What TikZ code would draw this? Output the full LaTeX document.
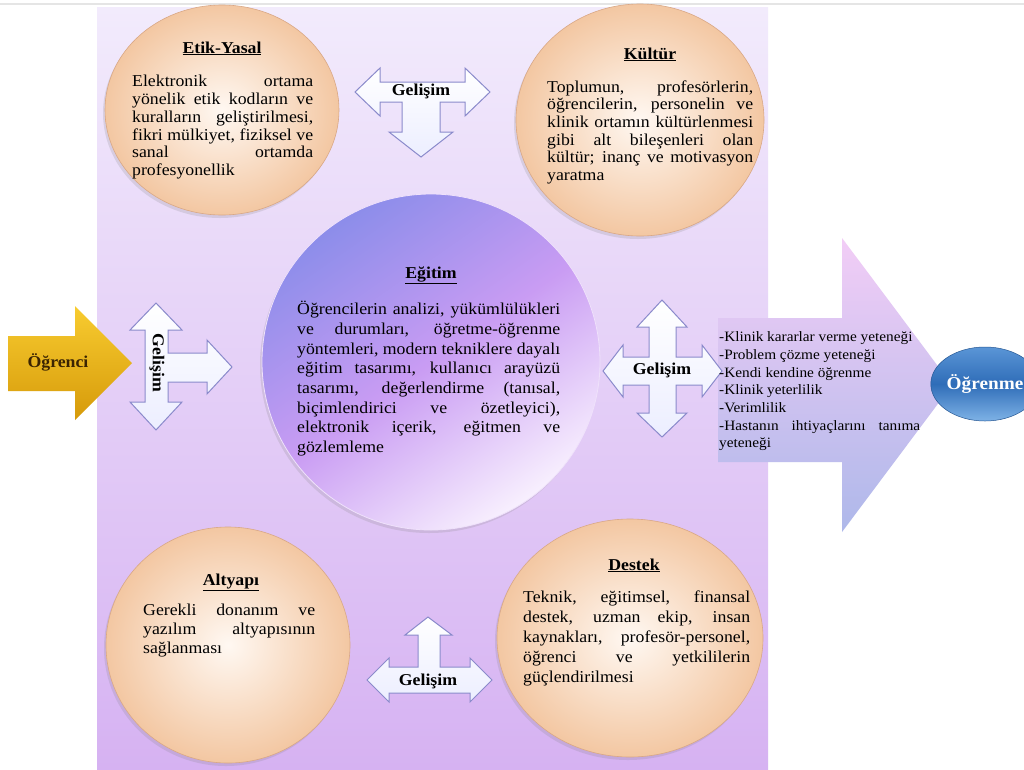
\documentclass[tikz,border=0pt]{standalone}
\usepackage{fontspec}
\setmainfont{Liberation Serif}[FakeStretch=1.07]
\usetikzlibrary{shapes.geometric,shadows}
\definecolor{panelTop}{HTML}{F2EBFC}
\definecolor{panelBot}{HTML}{D6B2F2}
\definecolor{peachIn}{HTML}{FFF8F2}
\definecolor{peachOut}{HTML}{F3C7A2}
\definecolor{peachEdge}{HTML}{D9A886}
\definecolor{eduA}{HTML}{8C8DEA}
\definecolor{eduB}{HTML}{C99CF3}
\definecolor{eduC}{HTML}{F8F0FE}
\definecolor{arrowEdge}{HTML}{8A8ACB}
\definecolor{arrowFill}{HTML}{ECEEFF}
\definecolor{bigTop}{HTML}{F2CDF6}
\definecolor{bigBot}{HTML}{AEB8EA}
\definecolor{goldTop}{HTML}{F8CC30}
\definecolor{goldBot}{HTML}{D69A0A}
\definecolor{blueTop}{HTML}{5A95D6}
\definecolor{blueMid}{HTML}{2F6DB8}
\definecolor{blueBot}{HTML}{7EB2E6}
\definecolor{inkBrown}{HTML}{3B2402}
\newcommand\jl[1]{\hbox to\hsize{\spaceskip=0pt\xspaceskip=0pt\strut#1}\par}
\newcommand\lastln[1]{\hbox{\spaceskip=0pt\xspaceskip=0pt\strut#1}\par}
\newcommand\setpar{\lineskiplimit=-20pt\parindent=0pt\parskip=0pt\relax}
\newcommand\bfs[1]{\fontsize{16.6}{#1}\selectfont\setpar}
\newcommand\rfs{\fontsize{14.3}{17.7}\selectfont\setpar}
\begin{document}
\begin{tikzpicture}[x=1pt,y=-1pt,
  peach/.style={ellipse, draw=peachEdge, line width=0.6pt, inner color=peachIn, outer color=peachOut,
    drop shadow={opacity=0.2, shadow xshift=-2pt, shadow yshift=-3pt}},
  devarrow/.style={draw=arrowEdge, line width=1pt, top color=white, bottom color=arrowFill, line join=miter},
  body/.style={anchor=north west, inner sep=0pt, text width=#1},
  ttl/.style={anchor=base, inner sep=0pt, font=\fontsize{16.6}{17.8}\selectfont\bfseries},
  gel/.style={inner sep=0pt, font=\fontsize{16.6}{17.8}\selectfont\bfseries}
]
\useasboundingbox (0,0) rectangle (1024,769);
\fill[white] (0,0) rectangle (1024,769);
\draw[black!10, line width=1.2pt] (0,4) -- (1024,4);
\shade[top color=panelTop, bottom color=panelBot] (97,7) rectangle (768,769);

% big output arrow
\shade[top color=bigTop, bottom color=bigBot] (718,318) -- (842,318) -- (842,238) -- (952,385)
  -- (842,532) -- (842,462) -- (718,462) -- cycle;
\node[ellipse, minimum width=96pt, minimum height=74pt, draw=blueMid!80!black, line width=0.5pt,
  top color=blueTop, bottom color=blueBot, middle color=blueMid, inner sep=0pt, text=white,
  font=\fontsize{18}{20}\selectfont\bfseries] (ogrenme) at (985,384) {Öğrenme};

% input arrow
\shade[top color=goldTop, bottom color=goldBot] (8,336) -- (75,336) -- (75,306) -- (132,363)
  -- (75,420) -- (75,391) -- (8,391) -- cycle;
\node[gel, text=inkBrown] (ogrenci) at (58,362) {Öğrenci};

% circles
\node[ellipse, minimum width=338pt, minimum height=336pt, draw=white!70!eduB, line width=0.8pt,
  top color=eduA, bottom color=eduC, middle color=eduB, shading angle=35,
  drop shadow={opacity=0.2, shadow xshift=-2pt, shadow yshift=-3pt}] (egitim) at (431,362) {};
\node[peach, minimum width=234pt, minimum height=210pt] (etik) at (222,110) {};
\node[peach, minimum width=248pt, minimum height=232pt] (kultur) at (640,120) {};
\node[peach, minimum width=244pt, minimum height=236pt] (altyapi) at (228,645) {};
\node[peach, minimum width=266pt, minimum height=238pt] (destek) at (630,638) {};

% development arrows
\path[devarrow] (355,92) -- (380,68) -- (380,82) -- (465,82) -- (465,68) -- (490,92) -- (465,116)
  -- (465,102) -- (440,102) -- (440,132) -- (453,132) -- (421,157) -- (389,132) -- (402,132)
  -- (402,102) -- (380,102) -- (380,116) -- cycle;
\path[devarrow] (156,303) -- (182,330) -- (168,330) -- (168,353) -- (207,353) -- (207,340)
  -- (232,367) -- (207,394) -- (207,382) -- (168,382) -- (168,402) -- (182,402) -- (156,430)
  -- (130,402) -- (145,402) -- (145,330) -- (130,330) -- cycle;
\path[devarrow] (662,300) -- (687,327) -- (676,327) -- (676,357) -- (702,357) -- (702,345)
  -- (722,371) -- (702,397) -- (702,385) -- (676,385) -- (676,413) -- (687,413) -- (662,437)
  -- (637,413) -- (649,413) -- (649,385) -- (623,385) -- (623,397) -- (603,371) -- (623,345)
  -- (623,357) -- (649,357) -- (649,327) -- (637,327) -- cycle;
\path[devarrow] (428,617) -- (452,635) -- (440,635) -- (440,667) -- (470,667) -- (470,658)
  -- (492,680) -- (470,702) -- (470,693) -- (389,693) -- (389,702) -- (367,680) -- (389,658)
  -- (389,667) -- (418,667) -- (418,635) -- (405,635) -- cycle;
\node[gel] (gTop) at (421,91) {Gelişim};
\node[gel, rotate=-90] (gLeft) at (157,363) {Gelişim};
\node[gel] (gRight) at (662,370) {Gelişim};
\node[gel] (gBot) at (428,681) {Gelişim};

% titles
\node[ttl] (etikH) at (222,53) {\underline{Etik-Yasal}};
\node[ttl] (kulturH) at (650,59) {\underline{Kültür}};
\node[ttl] (egitimH) at (431,278) {\underline{Eğitim}};
\node[ttl] (altyapiH) at (231,585) {\underline{Altyapı}};
\node[ttl] (destekH) at (634,570) {\underline{Destek}};

% bodies
\node[body=181pt, font=\bfs{17.8}] (etikB) at (132,74) {%
\jl{Elektronik ortama}%
\jl{yönelik etik kodların ve}%
\jl{kuralların geliştirilmesi,}%
\jl{fikri mülkiyet, fiziksel ve}%
\jl{sanal ortamda}%
\lastln{profesyonellik}};
\node[body=206pt, font=\bfs{17.6}] (kulturB) at (547,79.7) {%
\jl{Toplumun, profesörlerin,}%
\jl{öğrencilerin, personelin ve}%
\jl{klinik ortamın kültürlenmesi}%
\jl{gibi alt bileşenleri olan}%
\jl{kültür; inanç ve motivasyon}%
\lastln{yaratma}};
\node[body=263pt, font=\bfs{19.7}] (egitimB) at (297,300.7) {%
\jl{Öğrencilerin analizi, yükümlülükleri}%
\jl{ve durumları, öğretme-öğrenme}%
\jl{yöntemleri, modern tekniklere dayalı}%
\jl{eğitim tasarımı, kullanıcı arayüzü}%
\jl{tasarımı, değerlendirme (tanısal,}%
\jl{biçimlendirici ve özetleyici),}%
\jl{elektronik içerik, eğitmen ve}%
\lastln{gözlemleme}};
\node[body=172pt, font=\bfs{19}] (altyapiB) at (143,602.2) {%
\jl{Gerekli donanım ve}%
\jl{yazılım altyapısının}%
\lastln{sağlanması}};
\node[body=227pt, font=\bfs{20}] (destekB) at (523,588.5) {%
\jl{Teknik, eğitimsel, finansal}%
\jl{destek, uzman ekip, insan}%
\jl{kaynakları, profesör-personel,}%
\jl{öğrenci ve yetkililerin}%
\lastln{güçlendirilmesi}};
\node[body=201pt, font=\rfs] (skills) at (719,329.1) {%
\lastln{-Klinik kararlar verme yeteneği}%
\lastln{-Problem çözme yeteneği}%
\lastln{-Kendi kendine öğrenme}%
\lastln{-Klinik yeterlilik}%
\lastln{-Verimlilik}%
\jl{-Hastanın ihtiyaçlarını tanıma}%
\lastln{yeteneği}};
\end{tikzpicture}
\end{document}
